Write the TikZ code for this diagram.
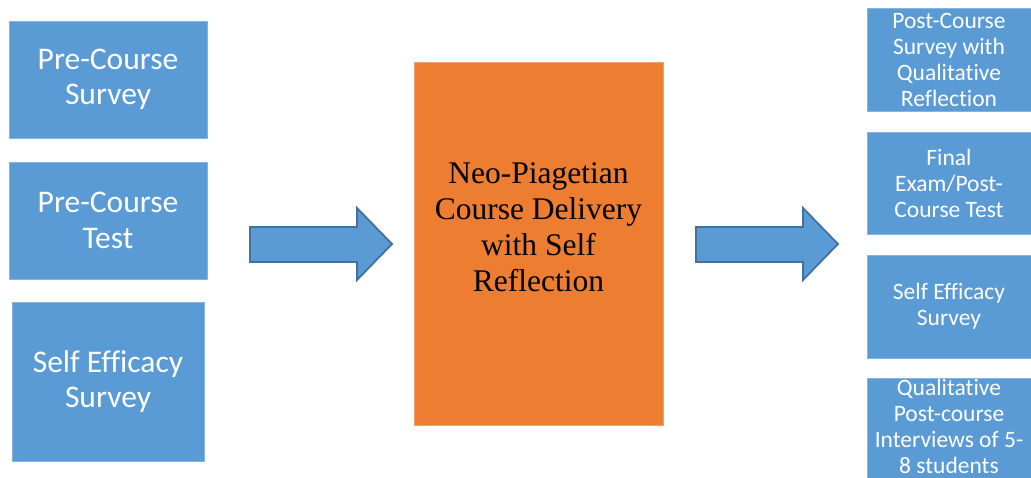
\documentclass[tikz,border=0pt]{standalone}
\usepackage{fontspec}
\setmainfont{Carlito}[Ligatures=NoCommon]
\newfontfamily\serifface{Liberation Serif}
\definecolor{boxblue}{HTML}{5B9BD5}
\definecolor{boxedge}{HTML}{86B4E0}
\definecolor{arrowedge}{HTML}{41719C}
\definecolor{boxorange}{HTML}{ED7D31}
\definecolor{orangeedge}{HTML}{F0A070}
\begin{document}
\begin{tikzpicture}[x=1pt,y=-1pt,
  bluebox/.style={rectangle, fill=boxblue, draw=boxedge, line width=0.8pt, inner sep=0pt, align=center, text=white},
  leftbox/.style={bluebox, font=\fontsize{31.5}{35.5}\selectfont},
  rightbox/.style={bluebox, minimum width=164pt, minimum height=103pt, font=\fontsize{23.5}{26}\selectfont},
  centerbox/.style={rectangle, fill=boxorange, draw=orangeedge, line width=0.8pt, inner sep=0pt},
  centertext/.style={align=center, inner sep=0pt, text=black, font=\serifface\fontsize{31.5}{36}\selectfont},
  blockarrow/.style={fill=boxblue, draw=arrowedge, line width=1.8pt, line join=miter}]
\useasboundingbox (0,0) rectangle (1031,478);
\fill[white] (0,0) rectangle (1031,478);
% left column
\node[leftbox, minimum width=198pt, minimum height=117pt] (pcs) at (108,79.5) {Pre-Course\\Survey};
\node[leftbox, minimum width=198pt, minimum height=117pt] (pct) at (108,220.5) {Pre-Course\\Test};
\node[leftbox, minimum width=192pt, minimum height=159pt] (ses) at (108,381.5) {Self Efficacy\\Survey};
% centre
\node[centerbox, minimum width=249pt, minimum height=363pt] (core) at (538.5,243.5) {};
\node[centertext] (coretext) at (538.5,227) {Neo-Piagetian\\Course Delivery\\with Self\\Reflection};
% block arrows
\draw[blockarrow] (250,227) -- (357,227) -- (357,208) -- (392,244) -- (357,280) -- (357,262) -- (250,262) -- cycle;
\draw[blockarrow] (696,227) -- (803,227) -- (803,208) -- (838,244) -- (803,280) -- (803,262) -- (696,262) -- cycle;
% right column
\node[rightbox, minimum height=103pt] (post) at (949,59.5) {Post-Course\\Survey with\\Qualitative\\Reflection};
\node[rightbox, minimum height=102pt] (final) at (949,183) {Final\\Exam/Post-\\Course Test};
\node[rightbox, minimum height=103pt] (ses2) at (949,306.5) {Self Efficacy\\Survey};
\node[rightbox, minimum height=100pt] (qual) at (949,428) {};
\node[bluebox, fill=none, draw=none, font=\fontsize{23.5}{26}\selectfont] (qualtext) at (949,426.5) {Qualitative\\Post-course\\Interviews of 5-\\8 students};
\end{tikzpicture}
\end{document}
